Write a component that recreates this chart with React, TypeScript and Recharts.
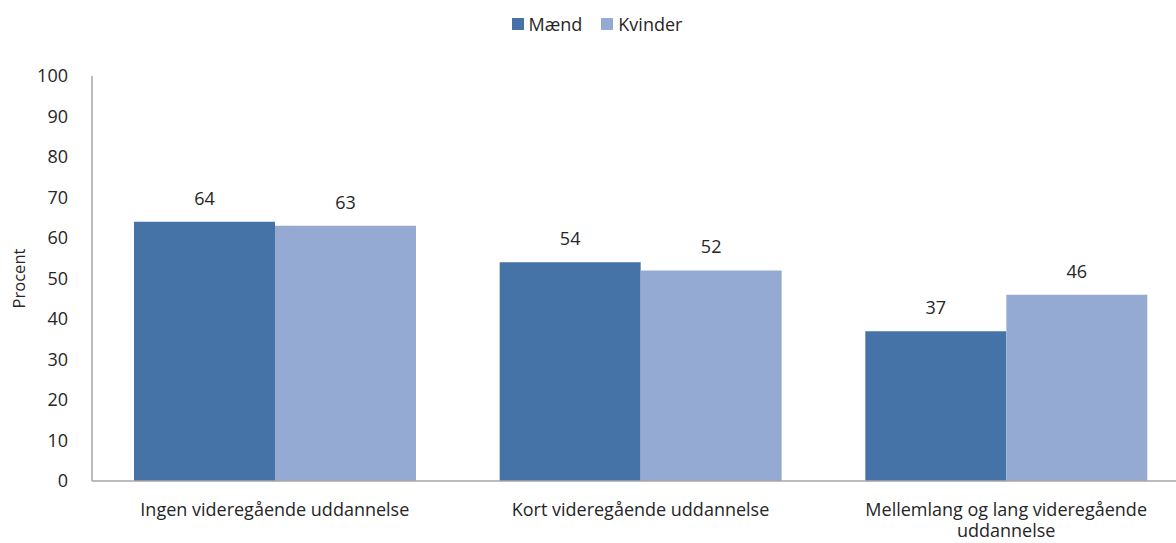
import React from 'react'
import { BarChart, Bar, XAxis, YAxis, Legend, LabelList, Label, Text } from 'recharts'

const categories = [
  'Ingen videregående uddannelse',
  'Kort videregående uddannelse',
  'Mellemlang og lang videregående uddannelse',
]
const maend = [64, 54, 37]
const kvinder = [63, 52, 46]
const yTicks = [0, 10, 20, 30, 40, 50, 60, 70, 80, 90, 100]
const seriesNames = ['Mænd', 'Kvinder']

const data = categories.map((name, i) => ({ name, maend: maend[i], kvinder: kvinder[i] }))

const FONT = '"Open Sans", sans-serif'
const FS = 18
const DARK = '#4673A7'
const LIGHT = '#95AAD2'
const AXIS = '#A6A6A6'
const TEXT = '#262626'

function CategoryTick({ x, y, payload }: any) {
  return (
    <Text
      x={x}
      y={y}
      dy={14}
      width={340}
      textAnchor="middle"
      verticalAnchor="start"
      lineHeight={21}
      fill={TEXT}
      style={{ fontFamily: FONT, fontSize: FS }}
    >
      {payload.value}
    </Text>
  )
}

function LegendContent() {
  const colors = [DARK, LIGHT]
  return (
    <div style={{ display: 'flex', justifyContent: 'center', alignItems: 'center', gap: 19, fontFamily: FONT, fontSize: FS, color: TEXT }}>
      {seriesNames.map((n, i) => (
        <div key={n} style={{ display: 'flex', alignItems: 'center' }}>
          <span style={{ display: 'inline-block', width: 12, height: 12, background: colors[i], marginRight: 5 }} />
          <span>{n}</span>
        </div>
      ))}
    </div>
  )
}

export default function App() {
  return (
    <div style={{ position: 'absolute', left: 0, top: 0, width: 1176, height: 543, overflow: 'hidden', background: '#fff' }}>
      <BarChart
        width={1200}
        height={543}
        data={data}
        margin={{ top: 50, right: 11, bottom: 22, left: 0 }}
        barCategoryGap={42}
        barGap={0}
        style={{ fontFamily: FONT }}
      >
        <Legend
          verticalAlign="top"
          align="center"
          content={<LegendContent />}
          wrapperStyle={{ position: 'absolute', top: 12, left: 0, width: 1194, height: 26 }}
        />
        <XAxis
          dataKey="name"
          tick={<CategoryTick />}
          tickLine={false}
          axisLine={{ stroke: AXIS, strokeWidth: 1.5 }}
          height={40}
          interval={0}
        />
        <YAxis
          domain={[0, 100]}
          ticks={yTicks}
          tickLine={false}
          axisLine={{ stroke: AXIS, strokeWidth: 1.5 }}
          width={92}
          tick={{ fill: TEXT, fontSize: FS, fontFamily: FONT }}
          tickMargin={18}
          interval={0}
        >
          <Label
            value="Procent"
            angle={-90}
            position="insideLeft"
            offset={19}
            textAnchor="middle"
            style={{ fill: TEXT, fontSize: 16.5, fontFamily: FONT }}
          />
        </YAxis>
        <Bar dataKey="maend" name={seriesNames[0]} fill={DARK} isAnimationActive={false}>
          <LabelList dataKey="maend" position="top" offset={17} style={{ fill: TEXT, fontSize: FS, fontFamily: FONT }} />
        </Bar>
        <Bar dataKey="kvinder" name={seriesNames[1]} fill={LIGHT} isAnimationActive={false}>
          <LabelList dataKey="kvinder" position="top" offset={17} style={{ fill: TEXT, fontSize: FS, fontFamily: FONT }} />
        </Bar>
      </BarChart>
    </div>
  )
}
